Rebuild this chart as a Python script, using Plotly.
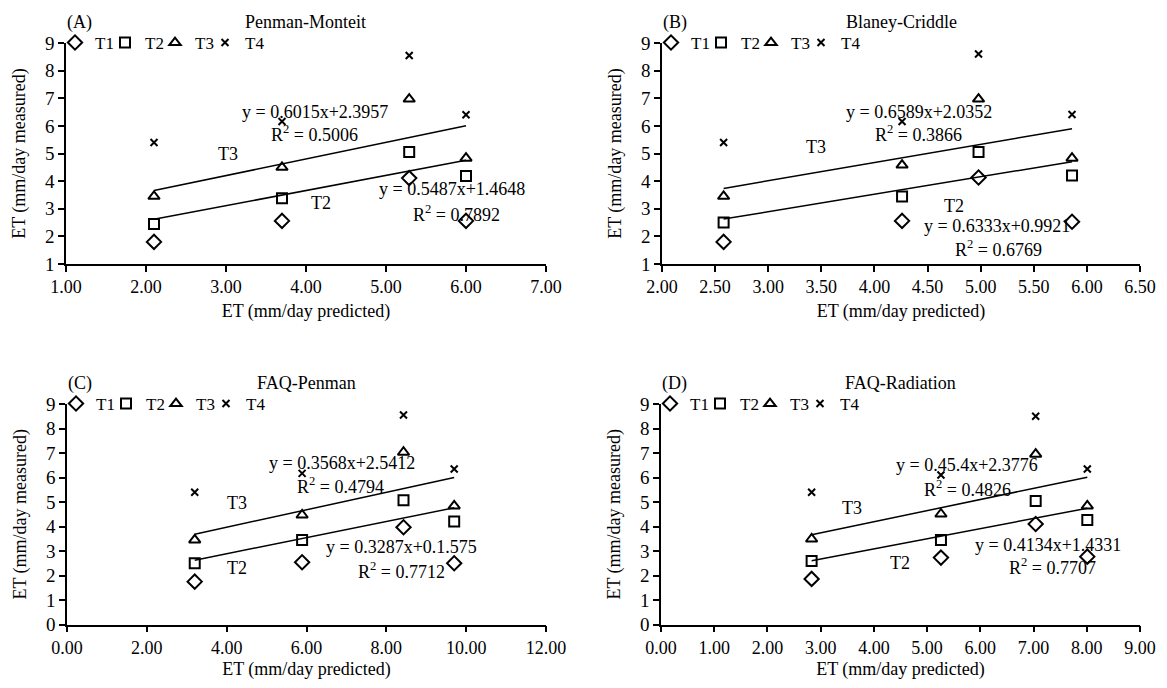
import numpy as np
import plotly.graph_objects as go

# ---------------- data ----------------
series_names = ["T1", "T2", "T3", "T4"]

# Panel A: Penman-Monteit
a_x = [2.10, 3.70, 5.29, 6.00]
a_T1 = [1.80, 2.56, 4.11, 2.56]
a_T2 = [2.45, 3.38, 5.05, 4.19]
a_T3 = [3.45, 4.50, 6.97, 4.83]
a_T4 = [5.40, 6.16, 8.55, 6.40]

# Panel B: Blaney-Criddle
b_x = [2.58, 4.26, 4.98, 5.86]
b_T1 = [1.80, 2.56, 4.13, 2.53]
b_T2 = [2.50, 3.44, 5.05, 4.20]
b_T3 = [3.45, 4.58, 6.97, 4.83]
b_T4 = [5.40, 6.16, 8.60, 6.41]

# Panel C: FAQ-Penman
c_x = [3.20, 5.89, 8.43, 9.70]
c_T1 = [1.75, 2.54, 3.97, 2.50]
c_T2 = [2.50, 3.45, 5.07, 4.20]
c_T3 = [3.45, 4.47, 7.03, 4.84]
c_T4 = [5.40, 6.17, 8.55, 6.35]

# Panel D: FAQ-Radiation
d_x = [2.83, 5.26, 7.04, 8.01]
d_T1 = [1.86, 2.73, 4.10, 2.77]
d_T2 = [2.59, 3.45, 5.04, 4.27]
d_T3 = [3.49, 4.51, 6.95, 4.84]
d_T4 = [5.40, 6.10, 8.50, 6.35]

# trend line coefficients (slope, intercept) : upper (T3) and lower (T2)
a_fit = [(0.6015, 2.3957), (0.5487, 1.4648)]
b_fit = [(0.6589, 2.0352), (0.6333, 0.9921)]
c_fit = [(0.3568, 2.5412), (0.3287, 1.575)]
d_fit = [(0.454, 2.3776), (0.4134, 1.4331)]

# equation labels as printed
a_eq = ["y = 0.6015x+2.3957", "R<sup>2</sup> = 0.5006", "y = 0.5487x+1.4648", "R<sup>2</sup> = 0.7892"]
b_eq = ["y = 0.6589x+2.0352", "R<sup>2</sup> = 0.3866", "y = 0.6333x+0.9921", "R<sup>2</sup> = 0.6769"]
c_eq = ["y = 0.3568x+2.5412", "R<sup>2</sup> = 0.4794", "y = 0.3287x+0.1.575", "R<sup>2</sup> = 0.7712"]
d_eq = ["y = 0.45.4x+2.3776", "R<sup>2</sup> = 0.4826", "y = 0.4134x+1.4331", "R<sup>2</sup> = 0.7707"]

titles = ["Penman-Monteit", "Blaney-Criddle", "FAQ-Penman", "FAQ-Radiation"]
letters = ["(A)", "(B)", "(C)", "(D)"]

# ---------------- styling ----------------
FONT = "Liberation Serif, Times New Roman, serif"
PAGE_W, PAGE_H = 1167, 688
BODY = 8                       # default page margin around the plot div
W, H = PAGE_W - 2 * BODY, PAGE_H - 2 * BODY


def fx(px):
    return (px - BODY) / W


def fy(py):
    return 1 - (py - BODY) / H


symbols = ["diamond-open", "square-open", "triangle-up-open", "x-thin"]
sizes = [11, 10, 10, 7]

panels = [
    dict(x=a_x, ys=[a_T1, a_T2, a_T3, a_T4], fit=a_fit, eq=a_eq,
         xr=[1, 7], xd=1, yr=[1, 9], yt=list(range(1, 10)),
         eqpos=[(4.11, 6.52), (4.11, 5.74), (5.83, 3.71), (5.88, 2.84)],
         lblpos=[(3.02, 4.99), (4.19, 3.22)]),
    dict(x=b_x, ys=[b_T1, b_T2, b_T3, b_T4], fit=b_fit, eq=b_eq,
         xr=[2, 6.5], xd=0.5, yr=[1, 9], yt=list(range(1, 10)),
         eqpos=[(4.42, 6.52), (4.41, 5.71), (5.15, 2.39), (5.17, 1.57)],
         lblpos=[(3.45, 5.25), (4.75, 3.10)]),
    dict(x=c_x, ys=[c_T1, c_T2, c_T3, c_T4], fit=c_fit, eq=c_eq,
         xr=[0, 12], xd=2, yr=[0, 9], yt=list(range(0, 10)),
         eqpos=[(6.88, 6.60), (6.84, 5.69), (8.38, 3.18), (8.38, 2.22)],
         lblpos=[(4.26, 4.97), (4.26, 2.29)]),
    dict(x=d_x, ys=[d_T1, d_T2, d_T3, d_T4], fit=d_fit, eq=d_eq,
         xr=[0, 9], xd=1, yr=[0, 9], yt=list(range(0, 10)),
         eqpos=[(5.75, 6.51), (5.75, 5.56), (7.27, 3.24), (7.36, 2.36)],
         lblpos=[(3.58, 4.77), (4.49, 2.50)]),
]

# plot-area pixel boxes on the page (left, right, top, bottom)
boxes = [(66, 546, 43, 264), (662, 1140, 43, 264),
         (67, 546, 404, 624.5), (661, 1140, 404, 624.5)]

fig = go.Figure()
annotations = []
layout = {}

for i, p in enumerate(panels):
    n = i + 1
    xa = "x" if n == 1 else f"x{n}"
    ya = "y" if n == 1 else f"y{n}"
    leg = "legend" if n == 1 else f"legend{n}"
    L, R, T, B = boxes[i]

    # trend lines
    for slope, icpt in p["fit"]:
        lx = np.array([min(p["x"]), max(p["x"])])
        fig.add_trace(go.Scatter(x=lx, y=slope * lx + icpt, mode="lines",
                                 line=dict(color="black", width=1.5),
                                 xaxis=xa, yaxis=ya, showlegend=False,
                                 hoverinfo="skip"))
    # markers
    for k, name in enumerate(series_names):
        fig.add_trace(go.Scatter(
            x=p["x"], y=p["ys"][k], mode="markers", name=name,
            marker=dict(symbol=symbols[k], size=sizes[k], color="black",
                        line=dict(color="black", width=2)),
            xaxis=xa, yaxis=ya, legend=leg, showlegend=True))
    # blank spacer entry so the last legend label is not clipped
    fig.add_trace(go.Scatter(x=[None], y=[None], mode="none", name=" ",
                             xaxis=xa, yaxis=ya,
                             legend=leg, showlegend=True, hoverinfo="skip"))

    xname = "xaxis" if n == 1 else f"xaxis{n}"
    yname = "yaxis" if n == 1 else f"yaxis{n}"
    layout[xname] = dict(
        domain=[fx(L), fx(R)], anchor=ya, range=p["xr"], dtick=p["xd"], tick0=p["xr"][0],
        tickformat=".2f", showgrid=False, zeroline=False, showline=True,
        linecolor="black", linewidth=1.5, ticks="outside", ticklen=6, tickwidth=2,
        tickcolor="black", tickfont=dict(family=FONT, size=18, color="black"),
        automargin=False,
        title=dict(text="ET (mm/day predicted)", standoff=8,
                   font=dict(family=FONT, size=18, color="black")))
    layout[yname] = dict(
        domain=[fy(B), fy(T)], anchor=xa, range=p["yr"], tickvals=p["yt"],
        showgrid=False, zeroline=False, showline=True,
        linecolor="black", linewidth=1.5, ticks="outside", ticklen=6, tickwidth=2,
        tickcolor="black", tickfont=dict(family=FONT, size=19, color="black"),
        automargin=False,
        title=dict(text="ET (mm/day measured)", standoff=15,
                   font=dict(family=FONT, size=18, color="black")))
    layout[leg] = dict(
        orientation="h", x=fx(L - 11), xanchor="left",
        y=fy(T), yanchor="middle", bgcolor="rgba(0,0,0,0)",
        font=dict(family=FONT, size=17, color="black"),
        itemwidth=30, entrywidth=5, tracegroupgap=0)

    # equations
    for t, (ex, ey) in zip(p["eq"], p["eqpos"]):
        annotations.append(dict(x=ex, y=ey, xref=xa, yref=ya, text=t, showarrow=False,
                                font=dict(family=FONT, size=18, color="black"),
                                xanchor="center", yanchor="middle"))
    for t, (ex, ey) in zip(["T3", "T2"], p["lblpos"]):
        annotations.append(dict(x=ex, y=ey, xref=xa, yref=ya, text=t, showarrow=False,
                                font=dict(family=FONT, size=18, color="black"),
                                xanchor="center", yanchor="middle"))
    # titles
    annotations.append(dict(x=fx((L + R) / 2), y=fy(T - 21), xref="paper", yref="paper",
                            text=titles[i], showarrow=False, xanchor="center", yanchor="middle",
                            font=dict(family=FONT, size=18, color="black")))
    annotations.append(dict(x=fx(L + 13), y=fy(T - 21), xref="paper", yref="paper",
                            text=letters[i], showarrow=False, xanchor="center", yanchor="middle",
                            font=dict(family=FONT, size=18, color="black")))

fig.update_layout(
    width=W, height=H, autosize=False,
    margin=dict(l=0, r=0, t=0, b=0),
    paper_bgcolor="white", plot_bgcolor="white",
    font=dict(family=FONT, color="black"),
    annotations=annotations,
    **layout)

fig.write_html("out.html")
